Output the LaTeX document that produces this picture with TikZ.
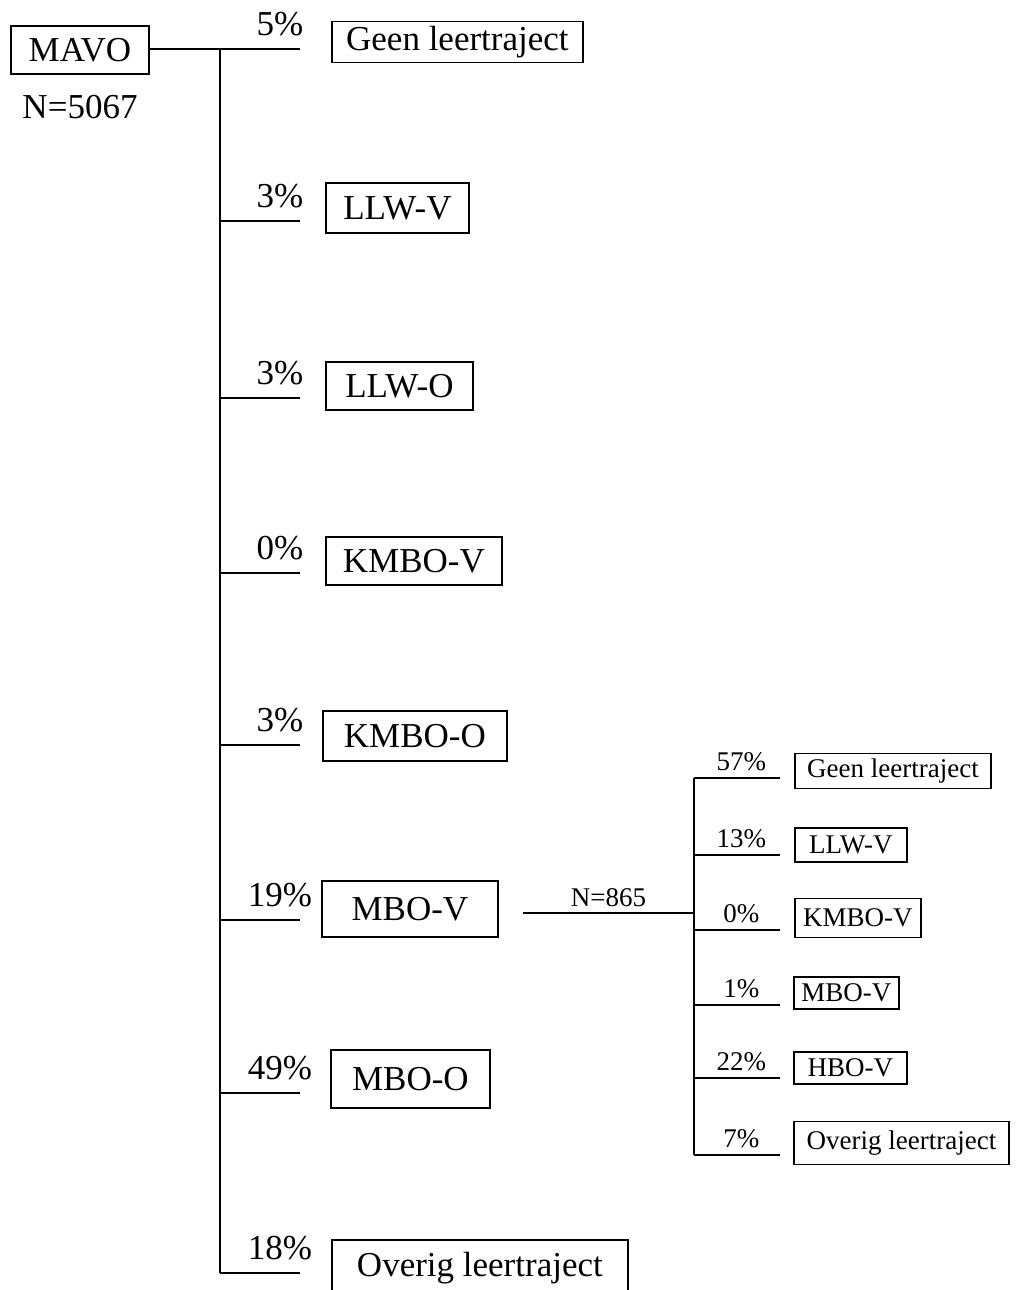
\documentclass[tikz,border=0pt]{standalone}
\usepackage{fontspec}
\setmainfont{Liberation Serif}
\begin{document}
\begin{tikzpicture}[x=1pt,y=-1pt,line width=1.8pt,
    box/.style={draw,anchor=west,inner sep=3pt,font=\fontsize{35}{40}\selectfont},
    sbox/.style={draw,anchor=west,inner sep=3pt,font=\fontsize{27}{30}\selectfont},
    pct/.style={pos=0.75,above=11pt,inner sep=1pt,font=\fontsize{35}{40}\selectfont},
    spct/.style={pos=0.55,above=5pt,inner sep=1pt,font=\fontsize{27}{30}\selectfont}]
      \useasboundingbox (0,0) rectangle (1015,1290);
      % first choice after MAVO
      \node[box,minimum width=138,minimum height=48] (mavo) at (10,50) {MAVO};
      \node[font=\fontsize{35}{40}\selectfont] (n5067) at (80,107) {N=5067};
      \node[box,minimum width=251,minimum height=41] (geen) at (331,42) {Geen leertraject};
      \node[box,minimum width=143,minimum height=50] (llwv) at (325,208) {LLW-V};
      \node[box,minimum width=147,minimum height=48] (llwo) at (325,386) {LLW-O};
      \node[box,minimum width=176,minimum height=48] (kmbov) at (325,561) {KMBO-V};
      \node[box,minimum width=184,minimum height=50] (kmboo) at (322,736) {KMBO-O};
      \node[box,minimum width=176,minimum height=56] (mbov) at (321,909) {MBO-V};
      \node[box,minimum width=159,minimum height=58] (mboo) at (330,1079) {MBO-O};
      \node[box,minimum width=296,minimum height=56] (overig) at (331,1268) {Overig leertraject};
      % second choice after MBO-V
      \node[sbox,minimum width=196,minimum height=35] (sgeen) at (794,771) {Geen leertraject};
      \node[sbox,minimum width=112,minimum height=34] (sllwv) at (794,845) {LLW-V};
      \node[sbox,minimum width=126,minimum height=39] (skmbov) at (794,918) {KMBO-V};
      \node[sbox,minimum width=105,minimum height=32] (smbov) at (793,993) {MBO-V};
      \node[sbox,minimum width=113,minimum height=32] (shbov) at (793,1068) {HBO-V};
      \node[sbox,minimum width=215,minimum height=43] (soverig) at (793,1143) {Overig leertraject};
      \path
        (220,49) coordinate (a1) (300,49) coordinate (p1)
        (220,221) coordinate (a2) (300,221) coordinate (p2)
        (220,398) coordinate (a3) (300,398) coordinate (p3)
        (220,573) coordinate (a4) (300,573) coordinate (p4)
        (220,745) coordinate (a5) (300,745) coordinate (p5)
        (220,920) coordinate (a6) (300,920) coordinate (p6)
        (220,1093) coordinate (a7) (300,1093) coordinate (p7)
        (220,1273) coordinate (a8) (300,1273) coordinate (p8)
        (523,913) coordinate (n0) (694,913) coordinate (m0)
        (694,778) coordinate (b1) (780,778) coordinate (q1)
        (694,855) coordinate (b2) (780,855) coordinate (q2)
        (694,930) coordinate (b3) (780,930) coordinate (q3)
        (694,1005) coordinate (b4) (780,1005) coordinate (q4)
        (694,1078) coordinate (b5) (780,1078) coordinate (q5)
        (694,1155) coordinate (b6) (780,1155) coordinate (q6);
      \begin{scope}[-]
        \draw (mavo.east |- a1) to (a1);
        \draw (a1) to (a8);
        \draw (a1) to node[pct]{5\%} (p1);
        \draw (a2) to node[pct]{3\%} (p2);
        \draw (a3) to node[pct]{3\%} (p3);
        \draw (a4) to node[pct]{0\%} (p4);
        \draw (a5) to node[pct]{3\%} (p5);
        \draw (a6) to node[pct]{19\%} (p6);
        \draw (a7) to node[pct]{49\%} (p7);
        \draw (a8) to node[pct]{18\%} (p8);
        \draw (n0) to node[above=4pt,inner sep=1pt,font=\fontsize{27}{30}\selectfont]{N=865} (m0);
        \draw (b1) to (b6);
        \draw (b1) to node[spct]{57\%} (q1);
        \draw (b2) to node[spct]{13\%} (q2);
        \draw (b3) to node[spct]{0\%} (q3);
        \draw (b4) to node[spct]{1\%} (q4);
        \draw (b5) to node[spct]{22\%} (q5);
        \draw (b6) to node[spct]{7\%} (q6);
      \end{scope}
    \end{tikzpicture}
\end{document}
